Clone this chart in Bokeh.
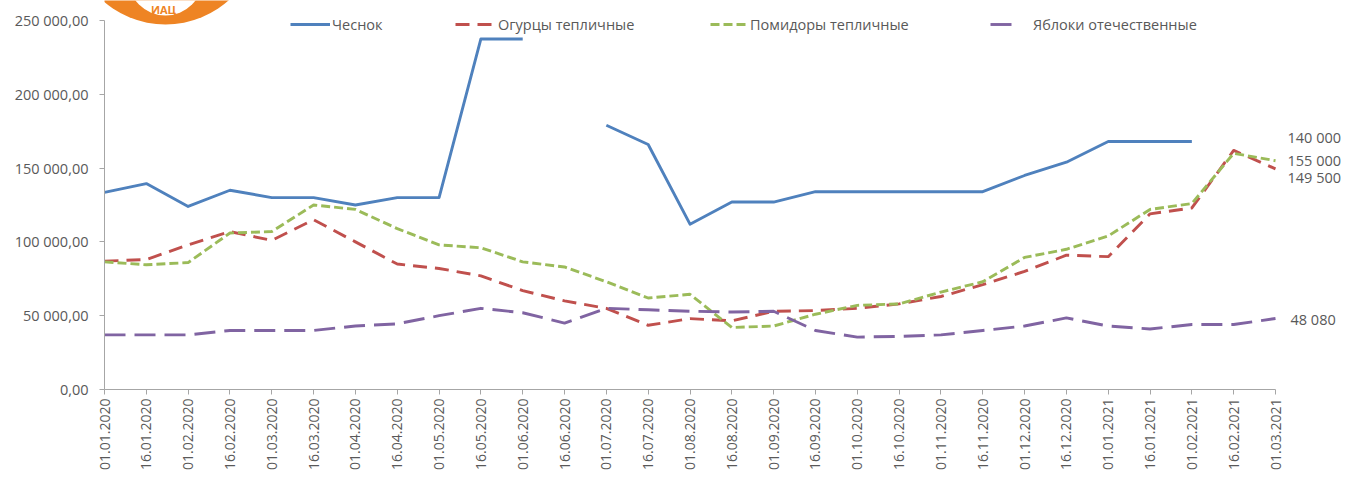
import math
from bokeh.plotting import figure
from bokeh.models import (Range1d, FixedTicker, Legend, LegendItem, ColumnDataSource)
from bokeh.embed import file_html
from bokeh.resources import INLINE
from bokeh.core.properties import value

nan = float("nan")

# ---------------- data ----------------
dates = ["01.01.2020", "16.01.2020", "01.02.2020", "16.02.2020", "01.03.2020",
         "16.03.2020", "01.04.2020", "16.04.2020", "01.05.2020", "16.05.2020",
         "01.06.2020", "16.06.2020", "01.07.2020", "16.07.2020", "01.08.2020",
         "16.08.2020", "01.09.2020", "16.09.2020", "01.10.2020", "16.10.2020",
         "01.11.2020", "16.11.2020", "01.12.2020", "16.12.2020", "01.01.2021",
         "16.01.2021", "01.02.2021", "16.02.2021", "01.03.2021"]

garlic = [133500, 139500, 124000, 135000, 130000, 130000, 125000, 130000, 130000,
          237500, 237500, nan, 179000, 166000, 112000, 127000, 127000, 134000,
          134000, 134000, 134000, 134000, 145000, 154000, 168000, 168000, 168000,
          nan, nan]

cucumbers = [87000, 88000, 98000, 107000, 101000, 115000, 100000, 85000, 82000,
             77000, 67000, 60000, 55000, 43500, 48000, 46500, 53000, 53500, 55000,
             58000, 63000, 71000, 80000, 91000, 90000, 119000, 123000, 162000, 149500]

tomatoes = [86500, 84500, 86000, 106000, 107000, 125000, 122000, 109000, 98000,
            96000, 86500, 83000, 73000, 62000, 64500, 42000, 43000, 51000, 57000,
            58000, 66000, 73000, 89500, 95000, 104000, 122000, 126000, 160000, 155000]

apples = [37000, 37000, 37000, 40000, 40000, 40000, 43000, 44500, 50000, 55000,
          52000, 45000, 55000, 54000, 53000, 52500, 53000, 40000, 35500, 36000,
          37000, 40000, 43000, 48500, 43000, 41000, 44000, 44000, 48080]

series_names = ["Чеснок", "Огурцы тепличные", "Помидоры тепличные", "Яблоки отечественные"]

y_ticks = [0, 50000, 100000, 150000, 200000, 250000]
y_tick_labels = ["0,00", "50 000,00", "100 000,00", "150 000,00", "200 000,00", "250 000,00"]

end_labels = ["140 000", "155 000", "149 500", "48 080"]

logo_text = "ИАЦ"

# ---------------- layout ----------------
FONT = "Open Sans"
GRAY = "#595959"
AXIS = "#a6a6a6"
ORANGE = "#EE8424"

W, H = 1349, 475
LEFT = 104
FRAME_BOTTOM = 389          # canvas y of the value 0
BOTTOM = H - FRAME_BOTTOM
frame_w = W - LEFT
frame_h = FRAME_BOTTOM
px_per_cat = 1171 / 28.0
x_end = frame_w / px_per_cat
px_per_val = 369 / 250000.0
y_end = frame_h / px_per_val

idx = list(range(len(dates)))

p = figure(width=W, height=H, x_range=Range1d(0, x_end), y_range=Range1d(0, y_end),
           output_backend="svg", toolbar_location=None,
           min_border_left=LEFT, min_border_right=0, min_border_top=0,
           min_border_bottom=BOTTOM)
p.outline_line_color = None
p.background_fill_color = "white"
p.xgrid.visible = False
p.ygrid.visible = False

# ---- logo (decoration, placed in screen pixels converted to data) ----
def to_data(cx, cy):
    return (cx - LEFT) / px_per_cat, (frame_h - cy) / px_per_val

ox, oy = to_data(165, -70.7)
ix, iy = to_data(165, -22.5)
tx, ty = to_data(163, 1)
p.circle(x=[ox], y=[oy], radius=94.7, radius_units="screen",
         fill_color=ORANGE, line_color=None)
p.circle(x=[ix], y=[iy], radius=37.5, radius_units="screen",
         fill_color="white", line_color=None)
p.text(x=[tx], y=[ty], text=[logo_text], text_font=value(FONT),
       text_font_size="11px", text_font_style="bold", text_color=ORANGE,
       text_align="center", text_baseline="top")

# ---- lines ----
colors = ["#4F81BD", "#C0504D", "#9BBB59", "#8064A2"]
dashes = ["solid", "14 8", "9 4", "21 9"]
data = [garlic, cucumbers, tomatoes, apples]
renderers = []
for ser, col, dsh in zip(data, colors, dashes):
    r = p.line(idx, ser, line_color=col, line_width=2.9, line_dash=dsh,
               line_join="round")
    renderers.append(r)

# ---- end labels ----
def last_valid(s):
    return [v for v in s if not math.isnan(v)][-1]

lab_src = ColumnDataSource(dict(
    x=[idx[-1]] * 4,
    y=[last_valid(garlic), tomatoes[-1], cucumbers[-1], apples[-1]],
    text=end_labels,
    xo=[12, 12, 12, 15],
    yo=[-4, 0, 9, 1],
))
p.text(x="x", y="y", text="text", x_offset="xo", y_offset="yo", source=lab_src,
       text_font=value(FONT), text_font_size="14.5px", text_color=GRAY,
       text_align="left", text_baseline="middle")

# ---- axes ----
xa = p.xaxis[0]
xa.ticker = FixedTicker(ticks=idx)
xa.major_label_overrides = {i: d for i, d in enumerate(dates)}
xa.major_label_orientation = math.pi / 2
xa.bounds = (0, idx[-1])
xa.axis_line_color = AXIS
xa.major_tick_line_color = AXIS
xa.major_tick_out = 5
xa.major_tick_in = 0
xa.minor_tick_line_color = None
xa.major_label_text_font = FONT
xa.major_label_text_font_size = "14px"
xa.major_label_text_color = GRAY
xa.major_label_standoff = 4

ya = p.yaxis[0]
ya.ticker = FixedTicker(ticks=y_ticks)
ya.major_label_overrides = {t: l for t, l in zip(y_ticks, y_tick_labels)}
ya.bounds = (0, 250000)
ya.axis_line_color = AXIS
ya.major_tick_line_color = AXIS
ya.major_tick_out = 5
ya.major_tick_in = 0
ya.minor_tick_line_color = None
ya.major_label_text_font = FONT
ya.major_label_text_font_size = "14.5px"
ya.major_label_text_color = GRAY
ya.major_label_standoff = 11

# ---- legends (one per item, positioned like the original) ----
leg_x = [186, 351, 606, 886]
leg_glyph_w = [40, 41, 38, 30]
leg_standoff = [2, 2, 2, 13]
for name, r, lx, gw, so in zip(series_names, renderers, leg_x, leg_glyph_w, leg_standoff):
    lg = Legend(items=[LegendItem(label=name, renderers=[r])], location=(lx, 355),
                orientation="horizontal", glyph_width=gw, glyph_height=20,
                label_height=20, label_standoff=so, padding=0, margin=0, spacing=0,
                border_line_alpha=0, background_fill_alpha=0,
                label_text_font=FONT, label_text_font_size="14.5px",
                label_text_color=GRAY)
    p.add_layout(lg)

open("out.html", "w").write(file_html(p, INLINE))
